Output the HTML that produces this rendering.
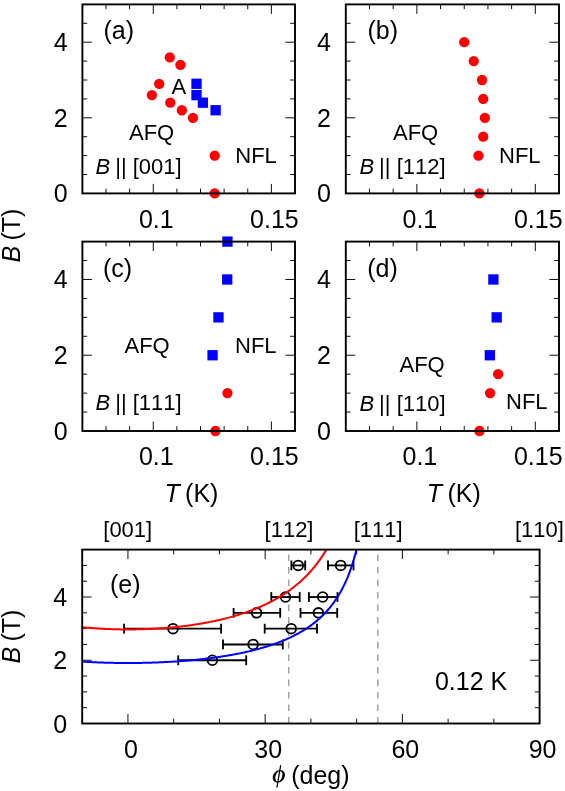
<!DOCTYPE html>
<html><head><meta charset="utf-8"><title>Figure</title>
<style>html,body{margin:0;padding:0;background:#fff;}body{width:565px;height:791px;overflow:hidden;font-family:"Liberation Sans",sans-serif;}svg{display:block;will-change:transform;transform:translateZ(0)}</style>
</head><body>
<svg width="565" height="791" viewBox="0 0 565 791" font-family="Liberation Sans, sans-serif" fill="#000" style="font-kerning:none"><line x1="82.40" y1="174.50" x2="87.20" y2="174.50" stroke="#000" stroke-width="0.95" />
<line x1="295.00" y1="174.50" x2="290.20" y2="174.50" stroke="#000" stroke-width="0.95" />
<line x1="82.40" y1="155.60" x2="87.20" y2="155.60" stroke="#000" stroke-width="0.95" />
<line x1="295.00" y1="155.60" x2="290.20" y2="155.60" stroke="#000" stroke-width="0.95" />
<line x1="82.40" y1="136.70" x2="87.20" y2="136.70" stroke="#000" stroke-width="0.95" />
<line x1="295.00" y1="136.70" x2="290.20" y2="136.70" stroke="#000" stroke-width="0.95" />
<line x1="82.40" y1="117.80" x2="91.90" y2="117.80" stroke="#000" stroke-width="0.95" />
<line x1="295.00" y1="117.80" x2="285.50" y2="117.80" stroke="#000" stroke-width="0.95" />
<line x1="82.40" y1="98.90" x2="87.20" y2="98.90" stroke="#000" stroke-width="0.95" />
<line x1="295.00" y1="98.90" x2="290.20" y2="98.90" stroke="#000" stroke-width="0.95" />
<line x1="82.40" y1="80.00" x2="87.20" y2="80.00" stroke="#000" stroke-width="0.95" />
<line x1="295.00" y1="80.00" x2="290.20" y2="80.00" stroke="#000" stroke-width="0.95" />
<line x1="82.40" y1="61.10" x2="87.20" y2="61.10" stroke="#000" stroke-width="0.95" />
<line x1="295.00" y1="61.10" x2="290.20" y2="61.10" stroke="#000" stroke-width="0.95" />
<line x1="82.40" y1="42.20" x2="91.90" y2="42.20" stroke="#000" stroke-width="0.95" />
<line x1="295.00" y1="42.20" x2="285.50" y2="42.20" stroke="#000" stroke-width="0.95" />
<line x1="82.40" y1="23.30" x2="87.20" y2="23.30" stroke="#000" stroke-width="0.95" />
<line x1="295.00" y1="23.30" x2="290.20" y2="23.30" stroke="#000" stroke-width="0.95" />
<line x1="106.02" y1="193.40" x2="106.02" y2="188.60" stroke="#000" stroke-width="0.95" />
<line x1="106.02" y1="4.40" x2="106.02" y2="9.20" stroke="#000" stroke-width="0.95" />
<line x1="129.64" y1="193.40" x2="129.64" y2="188.60" stroke="#000" stroke-width="0.95" />
<line x1="129.64" y1="4.40" x2="129.64" y2="9.20" stroke="#000" stroke-width="0.95" />
<line x1="153.27" y1="193.40" x2="153.27" y2="183.90" stroke="#000" stroke-width="0.95" />
<line x1="153.27" y1="4.40" x2="153.27" y2="13.90" stroke="#000" stroke-width="0.95" />
<line x1="176.89" y1="193.40" x2="176.89" y2="188.60" stroke="#000" stroke-width="0.95" />
<line x1="176.89" y1="4.40" x2="176.89" y2="9.20" stroke="#000" stroke-width="0.95" />
<line x1="200.51" y1="193.40" x2="200.51" y2="188.60" stroke="#000" stroke-width="0.95" />
<line x1="200.51" y1="4.40" x2="200.51" y2="9.20" stroke="#000" stroke-width="0.95" />
<line x1="224.13" y1="193.40" x2="224.13" y2="188.60" stroke="#000" stroke-width="0.95" />
<line x1="224.13" y1="4.40" x2="224.13" y2="9.20" stroke="#000" stroke-width="0.95" />
<line x1="247.76" y1="193.40" x2="247.76" y2="188.60" stroke="#000" stroke-width="0.95" />
<line x1="247.76" y1="4.40" x2="247.76" y2="9.20" stroke="#000" stroke-width="0.95" />
<line x1="271.38" y1="193.40" x2="271.38" y2="183.90" stroke="#000" stroke-width="0.95" />
<line x1="271.38" y1="4.40" x2="271.38" y2="13.90" stroke="#000" stroke-width="0.95" />
<circle cx="169.80" cy="57.32" r="5.15" fill="#ff0000"/>
<circle cx="180.43" cy="64.88" r="5.15" fill="#ff0000"/>
<circle cx="159.17" cy="83.78" r="5.15" fill="#ff0000"/>
<circle cx="151.85" cy="95.12" r="5.15" fill="#ff0000"/>
<circle cx="170.27" cy="102.68" r="5.15" fill="#ff0000"/>
<circle cx="181.85" cy="110.24" r="5.15" fill="#ff0000"/>
<circle cx="192.95" cy="117.80" r="5.15" fill="#ff0000"/>
<circle cx="214.68" cy="155.60" r="5.15" fill="#ff0000"/>
<circle cx="214.68" cy="193.40" r="5.15" fill="#ff0000"/>
<rect x="191.35" y="78.63" width="10.3" height="10.3" fill="#0000ff"/>
<rect x="191.35" y="89.97" width="10.3" height="10.3" fill="#0000ff"/>
<rect x="197.72" y="97.53" width="10.3" height="10.3" fill="#0000ff"/>
<rect x="210.48" y="105.09" width="10.3" height="10.3" fill="#0000ff"/>
<rect x="82.4" y="4.4" width="212.6" height="189.0" fill="none" stroke="#000" stroke-width="1.9"/>
<text x="67.60" y="202.40" font-size="25" text-anchor="end" >0</text>
<text x="67.60" y="126.80" font-size="25" text-anchor="end" >2</text>
<text x="67.60" y="51.20" font-size="25" text-anchor="end" >4</text>
<text x="156.27" y="227.60" font-size="25" text-anchor="middle" >0.1</text>
<text x="274.38" y="227.60" font-size="25" text-anchor="middle" >0.15</text>
<text x="103.50" y="39.20" font-size="25" text-anchor="start" >(a)</text>
<text x="171.50" y="94.00" font-size="22" text-anchor="start" >A</text>
<text x="129.00" y="139.80" font-size="22" text-anchor="start" >AFQ</text>
<text x="235.30" y="162.80" font-size="22" text-anchor="start" >NFL</text>
<text x="95.60" y="173.50" font-size="22" text-anchor="start" ><tspan font-style="italic">B</tspan><tspan dx="-1.2"> || [</tspan>001]</text>
<line x1="345.80" y1="174.50" x2="350.60" y2="174.50" stroke="#000" stroke-width="0.95" />
<line x1="559.00" y1="174.50" x2="554.20" y2="174.50" stroke="#000" stroke-width="0.95" />
<line x1="345.80" y1="155.60" x2="350.60" y2="155.60" stroke="#000" stroke-width="0.95" />
<line x1="559.00" y1="155.60" x2="554.20" y2="155.60" stroke="#000" stroke-width="0.95" />
<line x1="345.80" y1="136.70" x2="350.60" y2="136.70" stroke="#000" stroke-width="0.95" />
<line x1="559.00" y1="136.70" x2="554.20" y2="136.70" stroke="#000" stroke-width="0.95" />
<line x1="345.80" y1="117.80" x2="355.30" y2="117.80" stroke="#000" stroke-width="0.95" />
<line x1="559.00" y1="117.80" x2="549.50" y2="117.80" stroke="#000" stroke-width="0.95" />
<line x1="345.80" y1="98.90" x2="350.60" y2="98.90" stroke="#000" stroke-width="0.95" />
<line x1="559.00" y1="98.90" x2="554.20" y2="98.90" stroke="#000" stroke-width="0.95" />
<line x1="345.80" y1="80.00" x2="350.60" y2="80.00" stroke="#000" stroke-width="0.95" />
<line x1="559.00" y1="80.00" x2="554.20" y2="80.00" stroke="#000" stroke-width="0.95" />
<line x1="345.80" y1="61.10" x2="350.60" y2="61.10" stroke="#000" stroke-width="0.95" />
<line x1="559.00" y1="61.10" x2="554.20" y2="61.10" stroke="#000" stroke-width="0.95" />
<line x1="345.80" y1="42.20" x2="355.30" y2="42.20" stroke="#000" stroke-width="0.95" />
<line x1="559.00" y1="42.20" x2="549.50" y2="42.20" stroke="#000" stroke-width="0.95" />
<line x1="345.80" y1="23.30" x2="350.60" y2="23.30" stroke="#000" stroke-width="0.95" />
<line x1="559.00" y1="23.30" x2="554.20" y2="23.30" stroke="#000" stroke-width="0.95" />
<line x1="369.49" y1="193.40" x2="369.49" y2="188.60" stroke="#000" stroke-width="0.95" />
<line x1="369.49" y1="4.40" x2="369.49" y2="9.20" stroke="#000" stroke-width="0.95" />
<line x1="393.18" y1="193.40" x2="393.18" y2="188.60" stroke="#000" stroke-width="0.95" />
<line x1="393.18" y1="4.40" x2="393.18" y2="9.20" stroke="#000" stroke-width="0.95" />
<line x1="416.87" y1="193.40" x2="416.87" y2="183.90" stroke="#000" stroke-width="0.95" />
<line x1="416.87" y1="4.40" x2="416.87" y2="13.90" stroke="#000" stroke-width="0.95" />
<line x1="440.56" y1="193.40" x2="440.56" y2="188.60" stroke="#000" stroke-width="0.95" />
<line x1="440.56" y1="4.40" x2="440.56" y2="9.20" stroke="#000" stroke-width="0.95" />
<line x1="464.24" y1="193.40" x2="464.24" y2="188.60" stroke="#000" stroke-width="0.95" />
<line x1="464.24" y1="4.40" x2="464.24" y2="9.20" stroke="#000" stroke-width="0.95" />
<line x1="487.93" y1="193.40" x2="487.93" y2="188.60" stroke="#000" stroke-width="0.95" />
<line x1="487.93" y1="4.40" x2="487.93" y2="9.20" stroke="#000" stroke-width="0.95" />
<line x1="511.62" y1="193.40" x2="511.62" y2="188.60" stroke="#000" stroke-width="0.95" />
<line x1="511.62" y1="4.40" x2="511.62" y2="9.20" stroke="#000" stroke-width="0.95" />
<line x1="535.31" y1="193.40" x2="535.31" y2="183.90" stroke="#000" stroke-width="0.95" />
<line x1="535.31" y1="4.40" x2="535.31" y2="13.90" stroke="#000" stroke-width="0.95" />
<circle cx="464.24" cy="42.20" r="5.15" fill="#ff0000"/>
<circle cx="473.72" cy="61.10" r="5.15" fill="#ff0000"/>
<circle cx="482.01" cy="80.00" r="5.15" fill="#ff0000"/>
<circle cx="483.20" cy="98.90" r="5.15" fill="#ff0000"/>
<circle cx="484.85" cy="117.80" r="5.15" fill="#ff0000"/>
<circle cx="483.20" cy="136.70" r="5.15" fill="#ff0000"/>
<circle cx="478.46" cy="155.60" r="5.15" fill="#ff0000"/>
<circle cx="479.41" cy="193.40" r="5.15" fill="#ff0000"/>
<rect x="345.8" y="4.4" width="213.2" height="189.0" fill="none" stroke="#000" stroke-width="1.9"/>
<text x="331.00" y="202.40" font-size="25" text-anchor="end" >0</text>
<text x="331.00" y="126.80" font-size="25" text-anchor="end" >2</text>
<text x="331.00" y="51.20" font-size="25" text-anchor="end" >4</text>
<text x="419.87" y="227.60" font-size="25" text-anchor="middle" >0.1</text>
<text x="538.31" y="227.60" font-size="25" text-anchor="middle" >0.15</text>
<text x="367.50" y="39.20" font-size="25" text-anchor="start" >(b)</text>
<text x="393.00" y="139.80" font-size="22" text-anchor="start" >AFQ</text>
<text x="499.00" y="162.80" font-size="22" text-anchor="start" >NFL</text>
<text x="359.50" y="173.50" font-size="22" text-anchor="start" ><tspan font-style="italic">B</tspan><tspan dx="-1.2"> || [</tspan>112]</text>
<line x1="82.40" y1="412.06" x2="87.20" y2="412.06" stroke="#000" stroke-width="0.95" />
<line x1="295.00" y1="412.06" x2="290.20" y2="412.06" stroke="#000" stroke-width="0.95" />
<line x1="82.40" y1="393.12" x2="87.20" y2="393.12" stroke="#000" stroke-width="0.95" />
<line x1="295.00" y1="393.12" x2="290.20" y2="393.12" stroke="#000" stroke-width="0.95" />
<line x1="82.40" y1="374.18" x2="87.20" y2="374.18" stroke="#000" stroke-width="0.95" />
<line x1="295.00" y1="374.18" x2="290.20" y2="374.18" stroke="#000" stroke-width="0.95" />
<line x1="82.40" y1="355.24" x2="91.90" y2="355.24" stroke="#000" stroke-width="0.95" />
<line x1="295.00" y1="355.24" x2="285.50" y2="355.24" stroke="#000" stroke-width="0.95" />
<line x1="82.40" y1="336.30" x2="87.20" y2="336.30" stroke="#000" stroke-width="0.95" />
<line x1="295.00" y1="336.30" x2="290.20" y2="336.30" stroke="#000" stroke-width="0.95" />
<line x1="82.40" y1="317.36" x2="87.20" y2="317.36" stroke="#000" stroke-width="0.95" />
<line x1="295.00" y1="317.36" x2="290.20" y2="317.36" stroke="#000" stroke-width="0.95" />
<line x1="82.40" y1="298.42" x2="87.20" y2="298.42" stroke="#000" stroke-width="0.95" />
<line x1="295.00" y1="298.42" x2="290.20" y2="298.42" stroke="#000" stroke-width="0.95" />
<line x1="82.40" y1="279.48" x2="91.90" y2="279.48" stroke="#000" stroke-width="0.95" />
<line x1="295.00" y1="279.48" x2="285.50" y2="279.48" stroke="#000" stroke-width="0.95" />
<line x1="82.40" y1="260.54" x2="87.20" y2="260.54" stroke="#000" stroke-width="0.95" />
<line x1="295.00" y1="260.54" x2="290.20" y2="260.54" stroke="#000" stroke-width="0.95" />
<line x1="106.02" y1="431.00" x2="106.02" y2="426.20" stroke="#000" stroke-width="0.95" />
<line x1="106.02" y1="241.60" x2="106.02" y2="246.40" stroke="#000" stroke-width="0.95" />
<line x1="129.64" y1="431.00" x2="129.64" y2="426.20" stroke="#000" stroke-width="0.95" />
<line x1="129.64" y1="241.60" x2="129.64" y2="246.40" stroke="#000" stroke-width="0.95" />
<line x1="153.27" y1="431.00" x2="153.27" y2="421.50" stroke="#000" stroke-width="0.95" />
<line x1="153.27" y1="241.60" x2="153.27" y2="251.10" stroke="#000" stroke-width="0.95" />
<line x1="176.89" y1="431.00" x2="176.89" y2="426.20" stroke="#000" stroke-width="0.95" />
<line x1="176.89" y1="241.60" x2="176.89" y2="246.40" stroke="#000" stroke-width="0.95" />
<line x1="200.51" y1="431.00" x2="200.51" y2="426.20" stroke="#000" stroke-width="0.95" />
<line x1="200.51" y1="241.60" x2="200.51" y2="246.40" stroke="#000" stroke-width="0.95" />
<line x1="224.13" y1="431.00" x2="224.13" y2="426.20" stroke="#000" stroke-width="0.95" />
<line x1="224.13" y1="241.60" x2="224.13" y2="246.40" stroke="#000" stroke-width="0.95" />
<line x1="247.76" y1="431.00" x2="247.76" y2="426.20" stroke="#000" stroke-width="0.95" />
<line x1="247.76" y1="241.60" x2="247.76" y2="246.40" stroke="#000" stroke-width="0.95" />
<line x1="271.38" y1="431.00" x2="271.38" y2="421.50" stroke="#000" stroke-width="0.95" />
<line x1="271.38" y1="241.60" x2="271.38" y2="251.10" stroke="#000" stroke-width="0.95" />
<circle cx="227.44" cy="393.12" r="5.15" fill="#ff0000"/>
<circle cx="215.39" cy="431.00" r="5.15" fill="#ff0000"/>
<rect x="222.29" y="236.45" width="10.3" height="10.3" fill="#0000ff"/>
<rect x="222.05" y="274.33" width="10.3" height="10.3" fill="#0000ff"/>
<rect x="213.31" y="312.21" width="10.3" height="10.3" fill="#0000ff"/>
<rect x="207.41" y="350.09" width="10.3" height="10.3" fill="#0000ff"/>
<rect x="82.4" y="241.6" width="212.6" height="189.4" fill="none" stroke="#000" stroke-width="1.9"/>
<text x="67.60" y="440.00" font-size="25" text-anchor="end" >0</text>
<text x="67.60" y="364.24" font-size="25" text-anchor="end" >2</text>
<text x="67.60" y="288.48" font-size="25" text-anchor="end" >4</text>
<text x="156.27" y="465.20" font-size="25" text-anchor="middle" >0.1</text>
<text x="274.38" y="465.20" font-size="25" text-anchor="middle" >0.15</text>
<text x="103.00" y="276.50" font-size="25" text-anchor="start" >(c)</text>
<text x="124.50" y="353.00" font-size="22" text-anchor="start" >AFQ</text>
<text x="235.00" y="353.00" font-size="22" text-anchor="start" >NFL</text>
<text x="95.60" y="410.30" font-size="22" text-anchor="start" ><tspan font-style="italic">B</tspan><tspan dx="-1.2"> || [</tspan>111]</text>
<line x1="345.80" y1="412.06" x2="350.60" y2="412.06" stroke="#000" stroke-width="0.95" />
<line x1="559.00" y1="412.06" x2="554.20" y2="412.06" stroke="#000" stroke-width="0.95" />
<line x1="345.80" y1="393.12" x2="350.60" y2="393.12" stroke="#000" stroke-width="0.95" />
<line x1="559.00" y1="393.12" x2="554.20" y2="393.12" stroke="#000" stroke-width="0.95" />
<line x1="345.80" y1="374.18" x2="350.60" y2="374.18" stroke="#000" stroke-width="0.95" />
<line x1="559.00" y1="374.18" x2="554.20" y2="374.18" stroke="#000" stroke-width="0.95" />
<line x1="345.80" y1="355.24" x2="355.30" y2="355.24" stroke="#000" stroke-width="0.95" />
<line x1="559.00" y1="355.24" x2="549.50" y2="355.24" stroke="#000" stroke-width="0.95" />
<line x1="345.80" y1="336.30" x2="350.60" y2="336.30" stroke="#000" stroke-width="0.95" />
<line x1="559.00" y1="336.30" x2="554.20" y2="336.30" stroke="#000" stroke-width="0.95" />
<line x1="345.80" y1="317.36" x2="350.60" y2="317.36" stroke="#000" stroke-width="0.95" />
<line x1="559.00" y1="317.36" x2="554.20" y2="317.36" stroke="#000" stroke-width="0.95" />
<line x1="345.80" y1="298.42" x2="350.60" y2="298.42" stroke="#000" stroke-width="0.95" />
<line x1="559.00" y1="298.42" x2="554.20" y2="298.42" stroke="#000" stroke-width="0.95" />
<line x1="345.80" y1="279.48" x2="355.30" y2="279.48" stroke="#000" stroke-width="0.95" />
<line x1="559.00" y1="279.48" x2="549.50" y2="279.48" stroke="#000" stroke-width="0.95" />
<line x1="345.80" y1="260.54" x2="350.60" y2="260.54" stroke="#000" stroke-width="0.95" />
<line x1="559.00" y1="260.54" x2="554.20" y2="260.54" stroke="#000" stroke-width="0.95" />
<line x1="369.49" y1="431.00" x2="369.49" y2="426.20" stroke="#000" stroke-width="0.95" />
<line x1="369.49" y1="241.60" x2="369.49" y2="246.40" stroke="#000" stroke-width="0.95" />
<line x1="393.18" y1="431.00" x2="393.18" y2="426.20" stroke="#000" stroke-width="0.95" />
<line x1="393.18" y1="241.60" x2="393.18" y2="246.40" stroke="#000" stroke-width="0.95" />
<line x1="416.87" y1="431.00" x2="416.87" y2="421.50" stroke="#000" stroke-width="0.95" />
<line x1="416.87" y1="241.60" x2="416.87" y2="251.10" stroke="#000" stroke-width="0.95" />
<line x1="440.56" y1="431.00" x2="440.56" y2="426.20" stroke="#000" stroke-width="0.95" />
<line x1="440.56" y1="241.60" x2="440.56" y2="246.40" stroke="#000" stroke-width="0.95" />
<line x1="464.24" y1="431.00" x2="464.24" y2="426.20" stroke="#000" stroke-width="0.95" />
<line x1="464.24" y1="241.60" x2="464.24" y2="246.40" stroke="#000" stroke-width="0.95" />
<line x1="487.93" y1="431.00" x2="487.93" y2="426.20" stroke="#000" stroke-width="0.95" />
<line x1="487.93" y1="241.60" x2="487.93" y2="246.40" stroke="#000" stroke-width="0.95" />
<line x1="511.62" y1="431.00" x2="511.62" y2="426.20" stroke="#000" stroke-width="0.95" />
<line x1="511.62" y1="241.60" x2="511.62" y2="246.40" stroke="#000" stroke-width="0.95" />
<line x1="535.31" y1="431.00" x2="535.31" y2="421.50" stroke="#000" stroke-width="0.95" />
<line x1="535.31" y1="241.60" x2="535.31" y2="251.10" stroke="#000" stroke-width="0.95" />
<circle cx="498.12" cy="374.18" r="5.15" fill="#ff0000"/>
<circle cx="490.07" cy="393.12" r="5.15" fill="#ff0000"/>
<circle cx="479.41" cy="431.00" r="5.15" fill="#ff0000"/>
<rect x="488.23" y="274.33" width="10.3" height="10.3" fill="#0000ff"/>
<rect x="491.55" y="312.21" width="10.3" height="10.3" fill="#0000ff"/>
<rect x="484.68" y="350.09" width="10.3" height="10.3" fill="#0000ff"/>
<rect x="345.8" y="241.6" width="213.2" height="189.4" fill="none" stroke="#000" stroke-width="1.9"/>
<text x="331.00" y="440.00" font-size="25" text-anchor="end" >0</text>
<text x="331.00" y="364.24" font-size="25" text-anchor="end" >2</text>
<text x="331.00" y="288.48" font-size="25" text-anchor="end" >4</text>
<text x="419.87" y="465.20" font-size="25" text-anchor="middle" >0.1</text>
<text x="538.31" y="465.20" font-size="25" text-anchor="middle" >0.15</text>
<text x="367.30" y="277.20" font-size="25" text-anchor="start" >(d)</text>
<text x="399.50" y="371.80" font-size="22" text-anchor="start" >AFQ</text>
<text x="506.00" y="409.00" font-size="22" text-anchor="start" >NFL</text>
<text x="359.50" y="410.50" font-size="22" text-anchor="start" ><tspan font-style="italic">B</tspan><tspan dx="-1.2"> || [</tspan>110]</text>
<text x="164.40" y="502.00" font-size="25" text-anchor="start" ><tspan font-style="italic">T</tspan><tspan dx="-1.5"> (K)</tspan></text>
<text x="426.80" y="502.00" font-size="25" text-anchor="start" ><tspan font-style="italic">T</tspan><tspan dx="-1.5"> (K)</tspan></text>
<text transform="translate(19.8,235.5) rotate(-90)" font-size="25" text-anchor="middle"><tspan font-style="italic">B</tspan><tspan dx="-1.7"> (T)</tspan></text>
<text transform="translate(19.8,636.5) rotate(-90)" font-size="25" text-anchor="middle"><tspan font-style="italic">B</tspan><tspan dx="-1.7"> (T)</tspan></text>
<line x1="82.20" y1="707.69" x2="87.00" y2="707.69" stroke="#000" stroke-width="0.95" />
<line x1="539.60" y1="707.69" x2="534.80" y2="707.69" stroke="#000" stroke-width="0.95" />
<line x1="82.20" y1="691.88" x2="87.00" y2="691.88" stroke="#000" stroke-width="0.95" />
<line x1="539.60" y1="691.88" x2="534.80" y2="691.88" stroke="#000" stroke-width="0.95" />
<line x1="82.20" y1="676.07" x2="87.00" y2="676.07" stroke="#000" stroke-width="0.95" />
<line x1="539.60" y1="676.07" x2="534.80" y2="676.07" stroke="#000" stroke-width="0.95" />
<line x1="82.20" y1="660.26" x2="91.70" y2="660.26" stroke="#000" stroke-width="0.95" />
<line x1="539.60" y1="660.26" x2="530.10" y2="660.26" stroke="#000" stroke-width="0.95" />
<line x1="82.20" y1="644.45" x2="87.00" y2="644.45" stroke="#000" stroke-width="0.95" />
<line x1="539.60" y1="644.45" x2="534.80" y2="644.45" stroke="#000" stroke-width="0.95" />
<line x1="82.20" y1="628.65" x2="87.00" y2="628.65" stroke="#000" stroke-width="0.95" />
<line x1="539.60" y1="628.65" x2="534.80" y2="628.65" stroke="#000" stroke-width="0.95" />
<line x1="82.20" y1="612.84" x2="87.00" y2="612.84" stroke="#000" stroke-width="0.95" />
<line x1="539.60" y1="612.84" x2="534.80" y2="612.84" stroke="#000" stroke-width="0.95" />
<line x1="82.20" y1="597.03" x2="91.70" y2="597.03" stroke="#000" stroke-width="0.95" />
<line x1="539.60" y1="597.03" x2="530.10" y2="597.03" stroke="#000" stroke-width="0.95" />
<line x1="82.20" y1="581.22" x2="87.00" y2="581.22" stroke="#000" stroke-width="0.95" />
<line x1="539.60" y1="581.22" x2="534.80" y2="581.22" stroke="#000" stroke-width="0.95" />
<line x1="82.20" y1="565.41" x2="87.00" y2="565.41" stroke="#000" stroke-width="0.95" />
<line x1="539.60" y1="565.41" x2="534.80" y2="565.41" stroke="#000" stroke-width="0.95" />
<line x1="127.94" y1="723.50" x2="127.94" y2="714.00" stroke="#000" stroke-width="0.95" />
<line x1="127.94" y1="549.60" x2="127.94" y2="559.10" stroke="#000" stroke-width="0.95" />
<line x1="173.68" y1="723.50" x2="173.68" y2="718.70" stroke="#000" stroke-width="0.95" />
<line x1="173.68" y1="549.60" x2="173.68" y2="554.40" stroke="#000" stroke-width="0.95" />
<line x1="219.42" y1="723.50" x2="219.42" y2="718.70" stroke="#000" stroke-width="0.95" />
<line x1="219.42" y1="549.60" x2="219.42" y2="554.40" stroke="#000" stroke-width="0.95" />
<line x1="265.16" y1="723.50" x2="265.16" y2="714.00" stroke="#000" stroke-width="0.95" />
<line x1="265.16" y1="549.60" x2="265.16" y2="559.10" stroke="#000" stroke-width="0.95" />
<line x1="310.90" y1="723.50" x2="310.90" y2="718.70" stroke="#000" stroke-width="0.95" />
<line x1="310.90" y1="549.60" x2="310.90" y2="554.40" stroke="#000" stroke-width="0.95" />
<line x1="356.64" y1="723.50" x2="356.64" y2="718.70" stroke="#000" stroke-width="0.95" />
<line x1="356.64" y1="549.60" x2="356.64" y2="554.40" stroke="#000" stroke-width="0.95" />
<line x1="402.38" y1="723.50" x2="402.38" y2="714.00" stroke="#000" stroke-width="0.95" />
<line x1="402.38" y1="549.60" x2="402.38" y2="559.10" stroke="#000" stroke-width="0.95" />
<line x1="448.12" y1="723.50" x2="448.12" y2="718.70" stroke="#000" stroke-width="0.95" />
<line x1="448.12" y1="549.60" x2="448.12" y2="554.40" stroke="#000" stroke-width="0.95" />
<line x1="493.86" y1="723.50" x2="493.86" y2="718.70" stroke="#000" stroke-width="0.95" />
<line x1="493.86" y1="549.60" x2="493.86" y2="554.40" stroke="#000" stroke-width="0.95" />
<line x1="288.72" y1="554.40" x2="288.72" y2="723.50" stroke="#a2a2a2" stroke-width="1.5" stroke-dasharray="6.5 6"/>
<line x1="377.82" y1="554.40" x2="377.82" y2="723.50" stroke="#a2a2a2" stroke-width="1.5" stroke-dasharray="6.5 6"/>
<clipPath id="ce"><rect x="82.2" y="549.6" width="457.40000000000003" height="173.89999999999998"/></clipPath>
<line x1="178.20" y1="660.26" x2="246.20" y2="660.26" stroke="#000" stroke-width="1.85" />
<line x1="178.20" y1="655.36" x2="178.20" y2="665.16" stroke="#000" stroke-width="1.85" />
<line x1="246.20" y1="655.36" x2="246.20" y2="665.16" stroke="#000" stroke-width="1.85" />
<circle cx="212.40" cy="660.26" r="4.85" fill="none" stroke="#000" stroke-width="1.85"/>
<line x1="223.00" y1="644.45" x2="282.80" y2="644.45" stroke="#000" stroke-width="1.85" />
<line x1="223.00" y1="639.55" x2="223.00" y2="649.35" stroke="#000" stroke-width="1.85" />
<line x1="282.80" y1="639.55" x2="282.80" y2="649.35" stroke="#000" stroke-width="1.85" />
<circle cx="253.10" cy="644.45" r="4.85" fill="none" stroke="#000" stroke-width="1.85"/>
<line x1="264.70" y1="628.65" x2="317.00" y2="628.65" stroke="#000" stroke-width="1.85" />
<line x1="264.70" y1="623.75" x2="264.70" y2="633.55" stroke="#000" stroke-width="1.85" />
<line x1="317.00" y1="623.75" x2="317.00" y2="633.55" stroke="#000" stroke-width="1.85" />
<circle cx="291.20" cy="628.65" r="4.85" fill="none" stroke="#000" stroke-width="1.85"/>
<line x1="233.60" y1="612.84" x2="280.20" y2="612.84" stroke="#000" stroke-width="1.85" />
<line x1="233.60" y1="607.94" x2="233.60" y2="617.74" stroke="#000" stroke-width="1.85" />
<line x1="280.20" y1="607.94" x2="280.20" y2="617.74" stroke="#000" stroke-width="1.85" />
<circle cx="256.60" cy="612.84" r="4.85" fill="none" stroke="#000" stroke-width="1.85"/>
<line x1="271.30" y1="597.03" x2="299.70" y2="597.03" stroke="#000" stroke-width="1.85" />
<line x1="271.30" y1="592.13" x2="271.30" y2="601.93" stroke="#000" stroke-width="1.85" />
<line x1="299.70" y1="592.13" x2="299.70" y2="601.93" stroke="#000" stroke-width="1.85" />
<circle cx="285.50" cy="597.03" r="4.85" fill="none" stroke="#000" stroke-width="1.85"/>
<line x1="300.50" y1="612.84" x2="337.20" y2="612.84" stroke="#000" stroke-width="1.85" />
<line x1="300.50" y1="607.94" x2="300.50" y2="617.74" stroke="#000" stroke-width="1.85" />
<line x1="337.20" y1="607.94" x2="337.20" y2="617.74" stroke="#000" stroke-width="1.85" />
<circle cx="318.40" cy="612.84" r="4.85" fill="none" stroke="#000" stroke-width="1.85"/>
<line x1="308.90" y1="597.03" x2="337.50" y2="597.03" stroke="#000" stroke-width="1.85" />
<line x1="308.90" y1="592.13" x2="308.90" y2="601.93" stroke="#000" stroke-width="1.85" />
<line x1="337.50" y1="592.13" x2="337.50" y2="601.93" stroke="#000" stroke-width="1.85" />
<circle cx="322.70" cy="597.03" r="4.85" fill="none" stroke="#000" stroke-width="1.85"/>
<line x1="291.40" y1="565.41" x2="305.20" y2="565.41" stroke="#000" stroke-width="1.85" />
<line x1="291.40" y1="560.51" x2="291.40" y2="570.31" stroke="#000" stroke-width="1.85" />
<line x1="305.20" y1="560.51" x2="305.20" y2="570.31" stroke="#000" stroke-width="1.85" />
<circle cx="298.20" cy="565.41" r="4.85" fill="none" stroke="#000" stroke-width="1.85"/>
<line x1="328.00" y1="565.41" x2="353.50" y2="565.41" stroke="#000" stroke-width="1.85" />
<line x1="328.00" y1="560.51" x2="328.00" y2="570.31" stroke="#000" stroke-width="1.85" />
<line x1="353.50" y1="560.51" x2="353.50" y2="570.31" stroke="#000" stroke-width="1.85" />
<circle cx="340.70" cy="565.41" r="4.85" fill="none" stroke="#000" stroke-width="1.85"/>
<line x1="124.10" y1="628.65" x2="221.10" y2="628.65" stroke="#000" stroke-width="1.85" />
<line x1="124.10" y1="623.75" x2="124.10" y2="633.55" stroke="#000" stroke-width="1.85" />
<line x1="221.10" y1="623.75" x2="221.10" y2="633.55" stroke="#000" stroke-width="1.85" />
<circle cx="173.00" cy="628.65" r="4.85" fill="none" stroke="#000" stroke-width="1.85"/>
<path d="M82.20,627.23 L83.11,627.32 L84.03,627.41 L84.94,627.50 L85.86,627.58 L86.77,627.66 L87.69,627.74 L88.60,627.82 L89.52,627.89 L90.43,627.97 L91.35,628.04 L92.26,628.11 L93.18,628.18 L94.09,628.24 L95.01,628.31 L95.92,628.37 L96.84,628.43 L97.75,628.49 L98.67,628.55 L99.58,628.60 L100.50,628.66 L101.41,628.71 L102.33,628.76 L103.24,628.80 L104.16,628.85 L105.07,628.90 L105.98,628.94 L106.90,628.98 L107.81,629.02 L108.73,629.06 L109.64,629.09 L110.56,629.12 L111.47,629.16 L112.39,629.19 L113.30,629.22 L114.22,629.24 L115.13,629.27 L116.05,629.29 L116.96,629.31 L117.88,629.33 L118.79,629.35 L119.71,629.37 L120.62,629.38 L121.54,629.39 L122.45,629.40 L123.37,629.41 L124.28,629.42 L125.20,629.43 L126.11,629.43 L127.03,629.44 L127.94,629.44 L128.85,629.44 L129.77,629.43 L130.68,629.43 L131.60,629.42 L132.51,629.41 L133.43,629.40 L134.34,629.39 L135.26,629.38 L136.17,629.37 L137.09,629.35 L138.00,629.33 L138.92,629.31 L139.83,629.29 L140.75,629.27 L141.66,629.24 L142.58,629.22 L143.49,629.19 L144.41,629.16 L145.32,629.12 L146.24,629.09 L147.15,629.06 L148.07,629.02 L148.98,628.98 L149.90,628.94 L150.81,628.90 L151.72,628.85 L152.64,628.80 L153.55,628.76 L154.47,628.71 L155.38,628.66 L156.30,628.60 L157.21,628.55 L158.13,628.49 L159.04,628.43 L159.96,628.37 L160.87,628.31 L161.79,628.24 L162.70,628.18 L163.62,628.11 L164.53,628.04 L165.45,627.97 L166.36,627.89 L167.28,627.82 L168.19,627.74 L169.11,627.66 L170.02,627.58 L170.94,627.50 L171.85,627.41 L172.77,627.32 L173.68,627.23 L174.59,627.14 L175.51,627.05 L176.42,626.95 L177.34,626.86 L178.25,626.76 L179.17,626.66 L180.08,626.55 L181.00,626.45 L181.91,626.34 L182.83,626.23 L183.74,626.12 L184.66,626.00 L185.57,625.89 L186.49,625.77 L187.40,625.65 L188.32,625.53 L189.23,625.40 L190.15,625.27 L191.06,625.15 L191.98,625.01 L192.89,624.88 L193.81,624.74 L194.72,624.61 L195.64,624.46 L196.55,624.32 L197.46,624.18 L198.38,624.03 L199.29,623.88 L200.21,623.73 L201.12,623.57 L202.04,623.41 L202.95,623.25 L203.87,623.09 L204.78,622.92 L205.70,622.76 L206.61,622.59 L207.53,622.41 L208.44,622.24 L209.36,622.06 L210.27,621.88 L211.19,621.69 L212.10,621.51 L213.02,621.32 L213.93,621.13 L214.85,620.93 L215.76,620.73 L216.68,620.53 L217.59,620.33 L218.51,620.12 L219.42,619.91 L220.33,619.70 L221.25,619.48 L222.16,619.26 L223.08,619.04 L223.99,618.81 L224.91,618.59 L225.82,618.35 L226.74,618.12 L227.65,617.88 L228.57,617.64 L229.48,617.39 L230.40,617.14 L231.31,616.89 L232.23,616.63 L233.14,616.37 L234.06,616.11 L234.97,615.84 L235.89,615.57 L236.80,615.30 L237.72,615.02 L238.63,614.74 L239.55,614.45 L240.46,614.16 L241.38,613.86 L242.29,613.57 L243.20,613.26 L244.12,612.96 L245.03,612.64 L245.95,612.33 L246.86,612.01 L247.78,611.68 L248.69,611.35 L249.61,611.02 L250.52,610.68 L251.44,610.33 L252.35,609.98 L253.27,609.63 L254.18,609.27 L255.10,608.90 L256.01,608.53 L256.93,608.16 L257.84,607.78 L258.76,607.39 L259.67,607.00 L260.59,606.60 L261.50,606.20 L262.42,605.79 L263.33,605.37 L264.25,604.95 L265.16,604.52 L266.07,604.09 L266.99,603.65 L267.90,603.20 L268.82,602.74 L269.73,602.28 L270.65,601.81 L271.56,601.34 L272.48,600.85 L273.39,600.36 L274.31,599.86 L275.22,599.36 L276.14,598.84 L277.05,598.32 L277.97,597.79 L278.88,597.25 L279.80,596.70 L280.71,596.14 L281.63,595.58 L282.54,595.00 L283.46,594.42 L284.37,593.82 L285.29,593.22 L286.20,592.60 L287.12,591.97 L288.03,591.34 L288.94,590.69 L289.86,590.03 L290.77,589.36 L291.69,588.68 L292.60,587.99 L293.52,587.28 L294.43,586.56 L295.35,585.83 L296.26,585.08 L297.18,584.32 L298.09,583.55 L299.01,582.76 L299.92,581.96 L300.84,581.14 L301.75,580.30 L302.67,579.45 L303.58,578.58 L304.50,577.70 L305.41,576.80 L306.33,575.87 L307.24,574.93 L308.16,573.97 L309.07,572.99 L309.99,571.99 L310.90,570.97 L311.81,569.92 L312.73,568.86 L313.64,567.76 L314.56,566.65 L315.47,565.50 L316.39,564.33 L317.30,563.14 L318.22,561.91 L319.13,560.66 L320.05,559.37 L320.96,558.06 L321.88,556.71 L322.79,555.32 L323.71,553.90 L324.62,552.44 L325.54,550.95 L326.45,549.41 L327.37,547.83 L328.28,546.20 L329.20,544.53 L330.11,542.81 L331.03,541.04 L331.94,539.22 L332.86,537.34 L333.77,535.40 L334.68,533.40 L335.60,531.34 L336.51,529.20 L337.43,527.00" fill="none" stroke="#ff0000" stroke-width="2" clip-path="url(#ce)"/>
<path d="M82.20,661.60 L83.11,661.66 L84.03,661.71 L84.94,661.77 L85.86,661.82 L86.77,661.87 L87.69,661.92 L88.60,661.97 L89.52,662.02 L90.43,662.07 L91.35,662.12 L92.26,662.16 L93.18,662.21 L94.09,662.25 L95.01,662.29 L95.92,662.33 L96.84,662.37 L97.75,662.41 L98.67,662.44 L99.58,662.48 L100.50,662.51 L101.41,662.55 L102.33,662.58 L103.24,662.61 L104.16,662.64 L105.07,662.67 L105.98,662.69 L106.90,662.72 L107.81,662.75 L108.73,662.77 L109.64,662.79 L110.56,662.81 L111.47,662.83 L112.39,662.85 L113.30,662.87 L114.22,662.89 L115.13,662.91 L116.05,662.92 L116.96,662.93 L117.88,662.95 L118.79,662.96 L119.71,662.97 L120.62,662.98 L121.54,662.99 L122.45,662.99 L123.37,663.00 L124.28,663.01 L125.20,663.01 L126.11,663.01 L127.03,663.01 L127.94,663.01 L128.85,663.01 L129.77,663.01 L130.68,663.01 L131.60,663.01 L132.51,663.00 L133.43,662.99 L134.34,662.99 L135.26,662.98 L136.17,662.97 L137.09,662.96 L138.00,662.95 L138.92,662.93 L139.83,662.92 L140.75,662.91 L141.66,662.89 L142.58,662.87 L143.49,662.85 L144.41,662.83 L145.32,662.81 L146.24,662.79 L147.15,662.77 L148.07,662.75 L148.98,662.72 L149.90,662.69 L150.81,662.67 L151.72,662.64 L152.64,662.61 L153.55,662.58 L154.47,662.55 L155.38,662.51 L156.30,662.48 L157.21,662.44 L158.13,662.41 L159.04,662.37 L159.96,662.33 L160.87,662.29 L161.79,662.25 L162.70,662.21 L163.62,662.16 L164.53,662.12 L165.45,662.07 L166.36,662.02 L167.28,661.97 L168.19,661.92 L169.11,661.87 L170.02,661.82 L170.94,661.77 L171.85,661.71 L172.77,661.66 L173.68,661.60 L174.59,661.54 L175.51,661.48 L176.42,661.42 L177.34,661.36 L178.25,661.29 L179.17,661.23 L180.08,661.16 L181.00,661.09 L181.91,661.02 L182.83,660.95 L183.74,660.88 L184.66,660.81 L185.57,660.73 L186.49,660.66 L187.40,660.58 L188.32,660.50 L189.23,660.42 L190.15,660.34 L191.06,660.26 L191.98,660.17 L192.89,660.09 L193.81,660.00 L194.72,659.91 L195.64,659.82 L196.55,659.73 L197.46,659.63 L198.38,659.54 L199.29,659.44 L200.21,659.34 L201.12,659.24 L202.04,659.14 L202.95,659.04 L203.87,658.93 L204.78,658.83 L205.70,658.72 L206.61,658.61 L207.53,658.50 L208.44,658.39 L209.36,658.27 L210.27,658.15 L211.19,658.04 L212.10,657.92 L213.02,657.79 L213.93,657.67 L214.85,657.55 L215.76,657.42 L216.68,657.29 L217.59,657.16 L218.51,657.02 L219.42,656.89 L220.33,656.75 L221.25,656.61 L222.16,656.47 L223.08,656.33 L223.99,656.18 L224.91,656.04 L225.82,655.89 L226.74,655.74 L227.65,655.58 L228.57,655.43 L229.48,655.27 L230.40,655.11 L231.31,654.95 L232.23,654.78 L233.14,654.62 L234.06,654.45 L234.97,654.27 L235.89,654.10 L236.80,653.92 L237.72,653.74 L238.63,653.56 L239.55,653.38 L240.46,653.19 L241.38,653.00 L242.29,652.81 L243.20,652.61 L244.12,652.42 L245.03,652.22 L245.95,652.01 L246.86,651.81 L247.78,651.60 L248.69,651.39 L249.61,651.17 L250.52,650.95 L251.44,650.73 L252.35,650.51 L253.27,650.28 L254.18,650.05 L255.10,649.81 L256.01,649.57 L256.93,649.33 L257.84,649.09 L258.76,648.84 L259.67,648.59 L260.59,648.33 L261.50,648.07 L262.42,647.81 L263.33,647.54 L264.25,647.27 L265.16,646.99 L266.07,646.71 L266.99,646.43 L267.90,646.14 L268.82,645.85 L269.73,645.55 L270.65,645.25 L271.56,644.95 L272.48,644.63 L273.39,644.32 L274.31,644.00 L275.22,643.67 L276.14,643.34 L277.05,643.01 L277.97,642.66 L278.88,642.32 L279.80,641.96 L280.71,641.61 L281.63,641.24 L282.54,640.87 L283.46,640.50 L284.37,640.11 L285.29,639.72 L286.20,639.33 L287.12,638.93 L288.03,638.52 L288.94,638.10 L289.86,637.68 L290.77,637.25 L291.69,636.81 L292.60,636.36 L293.52,635.91 L294.43,635.44 L295.35,634.97 L296.26,634.49 L297.18,634.01 L298.09,633.51 L299.01,633.00 L299.92,632.48 L300.84,631.96 L301.75,631.42 L302.67,630.87 L303.58,630.32 L304.50,629.75 L305.41,629.17 L306.33,628.57 L307.24,627.97 L308.16,627.35 L309.07,626.72 L309.99,626.08 L310.90,625.42 L311.81,624.75 L312.73,624.06 L313.64,623.36 L314.56,622.64 L315.47,621.90 L316.39,621.15 L317.30,620.38 L318.22,619.60 L319.13,618.79 L320.05,617.96 L320.96,617.12 L321.88,616.25 L322.79,615.36 L323.71,614.44 L324.62,613.51 L325.54,612.54 L326.45,611.56 L327.37,610.54 L328.28,609.49 L329.20,608.42 L330.11,607.31 L331.03,606.18 L331.94,605.00 L332.86,603.79 L333.77,602.55 L334.68,601.26 L335.60,599.93 L336.51,598.56 L337.43,597.14 L338.34,595.68 L339.26,594.16 L340.17,592.58 L341.09,590.95 L342.00,589.25 L342.92,587.49 L343.83,585.66 L344.75,583.75 L345.66,581.76 L346.58,579.69 L347.49,577.53 L348.41,575.26 L349.32,572.89 L350.24,570.40 L351.15,567.79 L352.07,565.05 L352.98,562.15 L353.90,559.09 L354.81,555.86 L355.73,552.43 L356.64,548.79 L357.55,544.91 L358.47,540.76 L359.38,536.32 L360.30,531.54 L361.21,526.39" fill="none" stroke="#0000ff" stroke-width="2" clip-path="url(#ce)"/>
<rect x="82.2" y="549.6" width="457.40000000000003" height="173.89999999999998" fill="none" stroke="#000" stroke-width="1.9"/>
<text x="67.10" y="732.50" font-size="25" text-anchor="end" >0</text>
<text x="67.10" y="669.26" font-size="25" text-anchor="end" >2</text>
<text x="67.10" y="606.03" font-size="25" text-anchor="end" >4</text>
<text x="130.94" y="758.30" font-size="25" text-anchor="middle" >0</text>
<text x="268.16" y="758.30" font-size="25" text-anchor="middle" >30</text>
<text x="405.38" y="758.30" font-size="25" text-anchor="middle" >60</text>
<text x="542.60" y="758.30" font-size="25" text-anchor="middle" >90</text>
<g transform="translate(278.85,776.3) skewX(-12)"><path fill-rule="evenodd" d="M-6,0 a6,6.3 0 1,0 12,0 a6,6.3 0 1,0 -12,0 Z M-3.4,0 a3.4,5.4 0 1,0 6.8,0 a3.4,5.4 0 1,0 -6.8,0 Z"/></g>
<line x1="280.70" y1="765.20" x2="276.90" y2="787.60" stroke="#000" stroke-width="1.25" />
<text x="291.20" y="784.00" font-size="25" text-anchor="start" >(deg)</text>
<text x="127.74" y="537.20" font-size="22" text-anchor="middle" >[001]</text>
<text x="289.02" y="537.20" font-size="22" text-anchor="middle" >[112]</text>
<text x="378.12" y="537.20" font-size="22" text-anchor="middle" >[111]</text>
<text x="539.40" y="537.20" font-size="22" text-anchor="middle" >[110]</text>
<text x="110.00" y="592.80" font-size="25" text-anchor="start" >(e)</text>
<text x="434.90" y="690.20" font-size="25" text-anchor="start" >0.12 K</text></svg>
</body></html>
